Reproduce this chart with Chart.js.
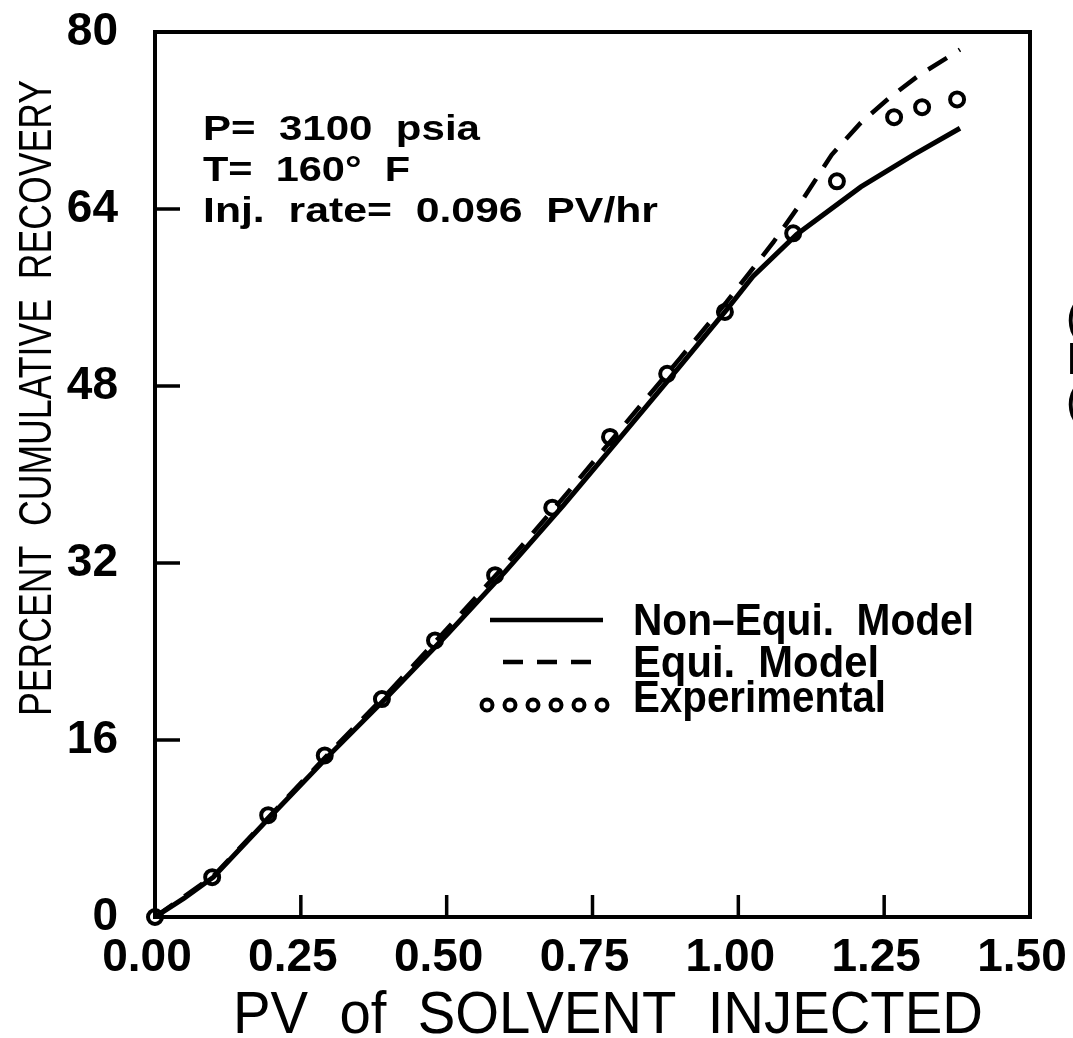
<!DOCTYPE html>
<html>
<head>
<meta charset="utf-8">
<script src="https://cdn.jsdelivr.net/npm/chart.js@4/dist/chart.umd.min.js"></script>
<style>
  body { margin: 0; background: #fff; }
  canvas { display: block; }
</style>
</head>
<body>
<canvas id="myChart" width="1073" height="1038"></canvas>
<script>
// model curves (PV injected vs percent cumulative recovery)
var pvModel = [0, 0.05, 0.10, 0.20, 0.30, 0.40, 0.50, 0.60, 0.70, 0.80, 0.90, 0.98, 1.025, 1.10, 1.21, 1.30, 1.38];
var nonEquiRec = [0, 1.7, 3.6, 9.2, 14.7, 20.0, 25.5, 31.2, 37.2, 43.5, 49.8, 54.9, 57.9, 61.7, 66.0, 68.9, 71.3];

var pvEqui = [0, 0.10, 0.20, 0.30, 0.40, 0.50, 0.60, 0.70, 0.80, 0.90, 0.98, 1.02, 1.06, 1.10, 1.16, 1.21, 1.26, 1.31, 1.38];
var equiRec = [0, 3.7, 9.3, 14.9, 20.3, 26.0, 31.8, 37.9, 44.2, 50.5, 55.6, 58.3, 61.0, 64.0, 68.9, 71.8, 74.1, 76.1, 78.4];

// experimental points
var pvExp = [0.0, 0.098, 0.194, 0.291, 0.389, 0.48, 0.583, 0.681, 0.78, 0.878, 0.977, 1.094, 1.169, 1.267, 1.315, 1.375];
var expRec = [0, 3.6, 9.2, 14.6, 19.7, 25.0, 30.9, 37.0, 43.4, 49.1, 54.7, 61.8, 66.5, 72.3, 73.2, 73.9];

var xTicks = [0, 0.25, 0.5, 0.75, 1.0, 1.25, 1.5];
var yTicks = [0, 16, 32, 48, 64, 80];

var annotationLines = ['P=  3100  psia', 'T=  160°  F', 'Inj.  rate=  0.096  PV/hr'];
var legendLabels = ['Non–Equi.  Model', 'Equi.  Model', 'Experimental'];

function toPoints(xs, ys) {
  return xs.map(function (x, i) { return { x: x, y: ys[i] }; });
}

var FONT = '"Liberation Sans", Arial, sans-serif';

// draw text squeezed/stretched to a given width
function fitText(ctx, txt, x, y, width, font) {
  ctx.save();
  ctx.font = font;
  var w = ctx.measureText(txt).width;
  ctx.translate(x, y);
  ctx.scale(width / w, 1);
  ctx.textAlign = 'left';
  ctx.textBaseline = 'alphabetic';
  ctx.fillText(txt, 0, 0);
  ctx.restore();
}

var decorations = {
  id: 'decorations',
  afterDatasetsDraw: function (chart) {
    var ctx = chart.ctx;
    var a = chart.chartArea;
    var xs = chart.scales.x, ys = chart.scales.y;
    ctx.save();
    ctx.strokeStyle = '#000';
    ctx.fillStyle = '#000';
    ctx.lineWidth = 4;
    ctx.lineCap = 'butt';
    ctx.strokeRect(a.left, a.top, a.right - a.left, a.bottom - a.top);

    // inward tick marks
    ctx.lineWidth = 3.5;
    xTicks.slice(1, -1).forEach(function (v) {
      var px = xs.getPixelForValue(v);
      ctx.beginPath();
      ctx.moveTo(px, a.bottom);
      ctx.lineTo(px, a.bottom - 22);
      ctx.stroke();
    });
    yTicks.slice(1, -1).forEach(function (v) {
      var py = ys.getPixelForValue(v);
      ctx.beginPath();
      ctx.moveTo(a.left, py);
      ctx.lineTo(a.left + 25, py);
      ctx.stroke();
    });

    // axis titles
    ctx.save();
    ctx.translate(51, 398);
    ctx.rotate(-Math.PI / 2);
    ctx.font = '47px ' + FONT;
    var t = 'PERCENT  CUMULATIVE  RECOVERY';
    var tw = ctx.measureText(t).width;
    ctx.scale(636 / tw, 1);
    ctx.textAlign = 'center';
    ctx.textBaseline = 'alphabetic';
    ctx.fillText(t, 0, 0);
    ctx.restore();

    fitText(ctx, 'PV  of  SOLVENT  INJECTED', 233, 1033, 750, '60px ' + FONT);

    // condition notes
    var annW = [277, 207, 455];
    var annY = [140, 181, 222];
    annotationLines.forEach(function (s, i) {
      fitText(ctx, s, 203, annY[i], annW[i], 'bold 35px ' + FONT);
    });

    // legend
    var legY = [620, 662, 705];
    var legTextY = [635, 677, 712];
    var legW = [341, 246, 253];
    ctx.lineWidth = 4.5;
    ctx.beginPath();
    ctx.moveTo(490, legY[0]);
    ctx.lineTo(603, legY[0]);
    ctx.stroke();
    ctx.setLineDash([20, 14]);
    ctx.beginPath();
    ctx.moveTo(503, legY[1]);
    ctx.lineTo(603, legY[1]);
    ctx.stroke();
    ctx.setLineDash([]);
    ctx.lineWidth = 4;
    for (var k = 0; k < 6; k++) {
      ctx.beginPath();
      ctx.arc(487 + k * 23, legY[2], 5.5, 0, Math.PI * 2);
      ctx.stroke();
    }
    legendLabels.forEach(function (s, i) {
      fitText(ctx, s, 633, legTextY[i], legW[i], 'bold 44px ' + FONT);
    });

    // bits of the neighbouring page at the right edge
    ctx.font = '44px ' + FONT;
    ctx.textAlign = 'left';
    ctx.fillText('(', 1066, 332);
    ctx.fillText('I', 1066, 374);
    ctx.fillText('(', 1066, 416);
    ctx.restore();
  }
};

var ctx = document.getElementById('myChart');
var chartLine = new Chart(ctx, {
  type: 'scatter',
  data: {
    datasets: [{
      label: 'Non-Equi. Model',
      data: toPoints(pvModel, nonEquiRec),
      showLine: true,
      borderColor: '#000',
      borderWidth: 5,
      pointRadius: 0,
      tension: 0
    }, {
      label: 'Equi. Model',
      data: toPoints(pvEqui, equiRec),
      showLine: true,
      borderColor: '#000',
      borderWidth: 4.5,
      borderDash: [22, 14],
      pointRadius: 0,
      tension: 0
    }, {
      label: 'Experimental',
      data: toPoints(pvExp, expRec),
      showLine: false,
      pointStyle: 'circle',
      pointRadius: 7,
      borderColor: '#000',
      borderWidth: 4,
      backgroundColor: 'rgba(0,0,0,0)',
      clip: false
    }]
  },
  options: {
    responsive: false,
    animation: false,
    devicePixelRatio: 1,
    layout: { padding: { top: 32, right: 43, left: 0, bottom: 0 } },
    plugins: {
      legend: { display: false },
      tooltip: { enabled: false }
    },
    scales: {
      x: {
        type: 'linear',
        min: 0,
        max: 1.5,
        afterBuildTicks: function (scale) {
          scale.ticks = xTicks.map(function (v) { return { value: v }; });
        },
        afterFit: function (scale) {
          scale.height = 121;
          scale.paddingLeft = 0;
          scale.paddingRight = 0;
        },
        grid: { display: false, drawTicks: false },
        border: { display: false },
        ticks: {
          color: '#000',
          font: { family: FONT, size: 46, weight: 'bold' },
          padding: 14,
          labelOffset: -8,
          maxRotation: 0,
          callback: function (v) { return Number(v).toFixed(2); }
        }
      },
      y: {
        type: 'linear',
        min: 0,
        max: 80,
        afterBuildTicks: function (scale) {
          scale.ticks = yTicks.map(function (v) { return { value: v }; });
        },
        afterFit: function (scale) {
          scale.width = 155;
          scale.paddingTop = 0;
          scale.paddingBottom = 0;
        },
        grid: { display: false, drawTicks: false },
        border: { display: false },
        ticks: {
          color: '#000',
          font: { family: FONT, size: 46, weight: 'bold' },
          padding: 37
        }
      }
    }
  },
  plugins: [decorations]
});
</script>
</body>
</html>
